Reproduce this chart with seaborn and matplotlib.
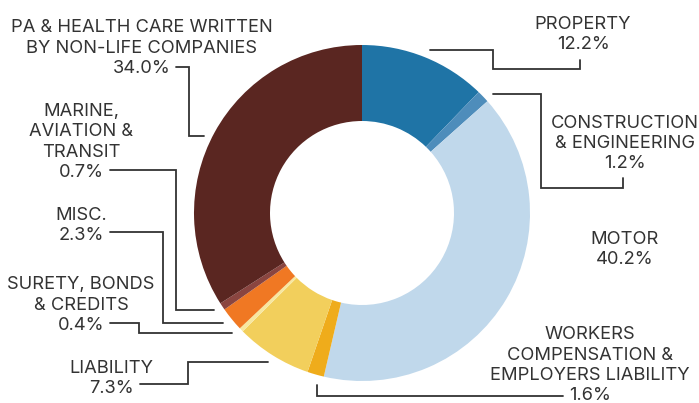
import matplotlib
matplotlib.use("Agg")
import matplotlib.pyplot as plt
import seaborn as sns

# Premium mix of the non-life market, clockwise from twelve o'clock
categories = [
    "PROPERTY",
    "CONSTRUCTION\n& ENGINEERING",
    "MOTOR",
    "WORKERS\nCOMPENSATION &\nEMPLOYERS LIABILITY",
    "LIABILITY",
    "SURETY, BONDS\n& CREDITS",
    "MISC.",
    "MARINE,\nAVIATION &\nTRANSIT",
    "PA & HEALTH CARE WRITTEN\nBY NON-LIFE COMPANIES",
]
shares = [12.2, 1.2, 40.2, 1.6, 7.3, 0.4, 2.3, 0.7, 34.0]
colors = ["#1f74a6", "#4e8dbb", "#c0d8eb", "#efac1b", "#f2cf5c",
          "#f7e7a0", "#f07823", "#8a4540", "#5a2621"]

sns.set_theme(style="white")
plt.rcParams["font.family"] = ["Inter", "DejaVu Sans"]
TEXT = "#333333"

W, H = 699, 403
fig = plt.figure(figsize=(W / 100, H / 100), dpi=100)
ax = fig.add_axes([0, 0, 1, 1])

cx, cy, R, ring = 362, 213, 168, 76
ax.pie(shares, colors=colors, startangle=-90, counterclock=True,
       center=(cx, cy), radius=R, frame=True,
       wedgeprops=dict(width=ring, linewidth=0))
ax.set_xlim(0, W)
ax.set_ylim(H, 0)
ax.set_aspect("equal")
ax.axis("off")

# label anchor (centre x, baseline of the last line) and the elbow leader path
labels = {
    "PROPERTY": ((583, 49), [(430, 50), (493, 50), (493, 69), (580, 69), (580, 60)]),
    "CONSTRUCTION\n& ENGINEERING": ((625, 168), [(493, 94), (541, 94), (541, 188), (623, 188), (623, 178)]),
    "MOTOR": ((625, 264), None),
    "WORKERS\nCOMPENSATION &\nEMPLOYERS LIABILITY": ((590, 400), [(317, 385), (317, 396), (563, 396)]),
    "LIABILITY": ((111, 393), [(140, 384), (188, 384), (188, 362), (268, 362)]),
    "SURETY, BONDS\n& CREDITS": ((81, 330), [(110, 323), (139, 323), (139, 333), (232, 333)]),
    "MISC.": ((81, 240), [(110, 232), (163, 232), (163, 323), (223, 323)]),
    "MARINE,\nAVIATION &\nTRANSIT": ((81, 177), [(110, 170), (176, 170), (176, 310), (214, 310)]),
    "PA & HEALTH CARE WRITTEN\nBY NON-LIFE COMPANIES": ((142, 73), [(176, 67), (189, 67), (189, 136), (204, 136)]),
}

for name, val in zip(categories, shares):
    (tx, ty), path = labels[name]
    ax.text(tx, ty, f"{name}\n{val:.1f}%", ha="center", va="baseline",
            ma="center", fontsize=13.2, color=TEXT, linespacing=1.25)
    if path:
        xs, ys = zip(*path)
        ax.plot(xs, ys, color=TEXT, lw=1.3, solid_joinstyle="miter")

fig.savefig("out.png", dpi=100)
